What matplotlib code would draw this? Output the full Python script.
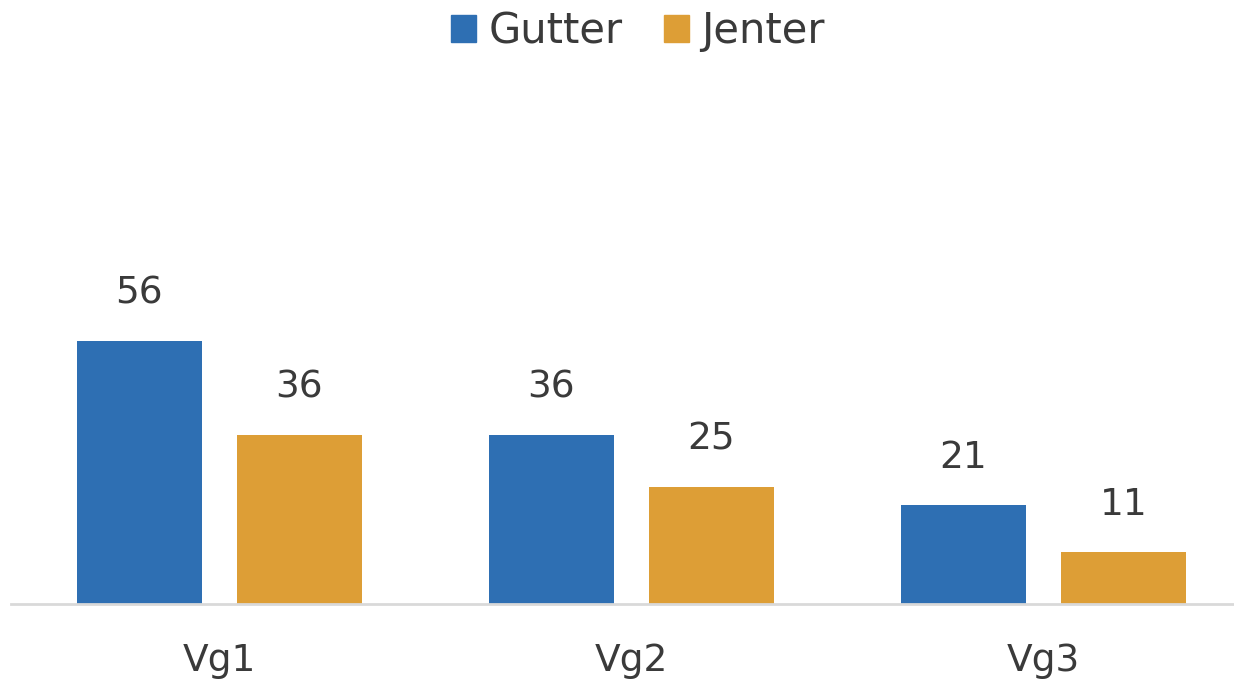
import numpy as np
import matplotlib.pyplot as plt
from matplotlib.patches import Patch

plt.rcParams['font.family'] = ['DejaVu Sans']

# data
groups = ["Vg1", "Vg2", "Vg3"]
series = ["Gutter", "Jenter"]
gutter = [56, 36, 21]
jenter = [36, 25, 11]
colors = ["#2E6FB3", "#DD9E36"]
text_col = "#3A3A3A"

fig = plt.figure(figsize=(12.34, 6.87), dpi=100)
ax = fig.add_axes([11 / 1234, 83 / 687, 1 - 11 / 1234, (604 - 80) / 687])

x = np.arange(len(groups))
w = 0.303
off = 0.194
for vals, name, c, d in [(gutter, series[0], colors[0], -off), (jenter, series[1], colors[1], off)]:
    bars = ax.bar(x + d, vals, width=w, color=c, label=name)
    for b, v in zip(bars, vals):
        ax.annotate(str(v), (b.get_x() + b.get_width() / 2, v), xytext=(0, 27),
                    textcoords="offset points", ha="center", va="baseline",
                    fontsize=27, color=text_col)

ax.set_xlim(-0.505, 2.462)
ax.set_ylim(0, 111.5)
ax.set_yticks([])
ax.set_xticks(x)
ax.set_xticklabels(groups, fontsize=27, color=text_col)
ax.tick_params(axis="x", length=0, pad=28)
for s in ["top", "right", "left"]:
    ax.spines[s].set_visible(False)
ax.spines["bottom"].set_color("#D9D9D9")
ax.spines["bottom"].set_linewidth(2)

handles = [Patch(color=c) for c in colors]
fig.legend(handles, series, loc="upper center", bbox_to_anchor=(0.517, 1.04), ncol=2,
           frameon=False, fontsize=30, handlelength=0.6, handleheight=0.6,
           handletextpad=0.3, columnspacing=1.0, labelcolor=text_col)

fig.savefig("out.png", dpi=100)
